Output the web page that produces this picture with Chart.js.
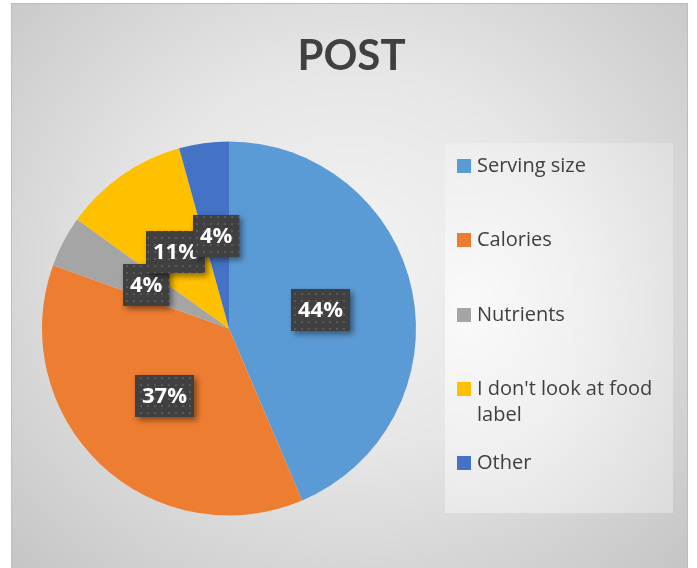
<!DOCTYPE html>
<html>
<head>
<meta charset="utf-8">
<script src="https://cdn.jsdelivr.net/npm/chart.js@4.4.0/dist/chart.umd.min.js"></script>
<style>
  html, body { margin: 0; padding: 0; background: #fff; }
  body { width: 697px; height: 568px; position: relative; overflow: hidden; }
  #frame {
    position: absolute; left: 11px; top: 3px; width: 677px; height: 570px;
    box-sizing: border-box; border: 1px solid #bdbdbd;
    background: radial-gradient(ellipse 70% 75% at 50% 45%, #f3f3f3 0%, #e6e6e6 45%, #c6c6c6 100%);
  }
  #chartBox { position: absolute; left: 0; top: 0; width: 675px; height: 564px; }
  #legend {
    position: absolute; left: 433px; top: 139px; width: 228px; height: 370px;
    background: radial-gradient(ellipse 120% 90% at 10% 45%, #fafafa 0%, #efefef 45%, #dadada 100%);
    font-family: "Open Sans", sans-serif; font-size: 20px; color: #404040;
  }
  .item { position: absolute; left: 12px; display: flex; align-items: flex-start; line-height: 26px; }
  .sw { width: 14px; height: 14px; margin-top: 7px; margin-right: 6px; flex: none; }
  .txt { width: 190px; }
</style>
</head>
<body>
<div id="frame">
  <div id="chartBox"><canvas id="pieChart" width="675" height="564"></canvas></div>
  <div id="legend"></div>
</div>
<script>
// data (percent shares)
const categories = ['Serving size', 'Calories', 'Nutrients', "I don't look at food label", 'Other'];
const shares = [43.6, 36.9, 4.4, 10.8, 4.3];
const colors = ['#5B9BD5', '#ED7D31', '#A5A5A5', '#FFC000', '#4472C4'];

// legend built from the same arrays
var legendEl = document.getElementById('legend');
categories.forEach(function(name, i) {
    var row = document.createElement('div');
    row.className = 'item';
    row.style.top = (9 + i * 74.3) + 'px';
    row.innerHTML = '<span class="sw" style="background:' + colors[i] + '"></span><span class="txt"></span>';
    row.querySelector('.txt').textContent = name;
    legendEl.appendChild(row);
});

// dotted fill for the data label boxes
var dotCanvas = document.createElement('canvas');
dotCanvas.width = 7; dotCanvas.height = 7;
var dctx = dotCanvas.getContext('2d');
dctx.fillStyle = 'rgba(255,255,255,0.13)';
dctx.fillRect(2, 2, 2, 2);

var labelBoxes = {
    id: 'labelBoxes',
    afterLayout: function(chart) {
        // centre the title over the whole frame, not just the pie area
        if (chart.titleBlock) {
            chart.titleBlock.left = 4;
            chart.titleBlock.right = chart.width;
        }
    },
    afterDatasetsDraw: function(chart) {
        var ctx = chart.ctx;
        var meta = chart.getDatasetMeta(0);
        var total = shares.reduce(function(a, b) { return a + b; }, 0);
        var pattern = ctx.createPattern(dotCanvas, 'repeat');
        ctx.save();
        ctx.font = 'bold 22px "Open Sans"';
        meta.data.forEach(function(arc, i) {
            var p = arc.tooltipPosition();
            var txt = Math.round(shares[i] / total * 100) + '%';
            var w = ctx.measureText(txt).width + 14, h = 42;
            var x = Math.round(p.x - w / 2), y = Math.round(p.y - h / 2);
            ctx.shadowColor = 'rgba(0,0,0,0.45)';
            ctx.shadowBlur = 6;
            ctx.shadowOffsetX = 3;
            ctx.shadowOffsetY = 3;
            ctx.fillStyle = '#404040';
            ctx.fillRect(x, y, w, h);
            ctx.shadowColor = 'transparent';
            ctx.fillStyle = pattern;
            ctx.fillRect(x, y, w, h);
            ctx.fillStyle = '#ffffff';
            ctx.textAlign = 'center';
            ctx.textBaseline = 'middle';
            ctx.fillText(txt, x + w / 2, y + h / 2 + 1);
        });
        ctx.restore();
    }
};

window.onload = function() {
    var ctx = document.getElementById('pieChart').getContext('2d');
    var pieChart = new Chart(ctx, {
        type: 'pie',
        data: {
            labels: categories,
            datasets: [{
                data: shares,
                backgroundColor: colors,
                borderWidth: 0,
                hoverOffset: 0
            }]
        },
        options: {
            responsive: false,
            animation: false,
            layout: {
                padding: { left: 30, right: 271, top: 0, bottom: 52.5 }
            },
            plugins: {
                legend: { display: false },
                tooltip: { enabled: false },
                title: {
                    display: true,
                    text: 'POST',
                    color: '#404040',
                    font: { family: 'Lato', size: 42, weight: 'bold' },
                    padding: { top: 27.6, bottom: 59.5 }
                }
            }
        },
        plugins: [labelBoxes]
    });
};
</script>
</body>
</html>
